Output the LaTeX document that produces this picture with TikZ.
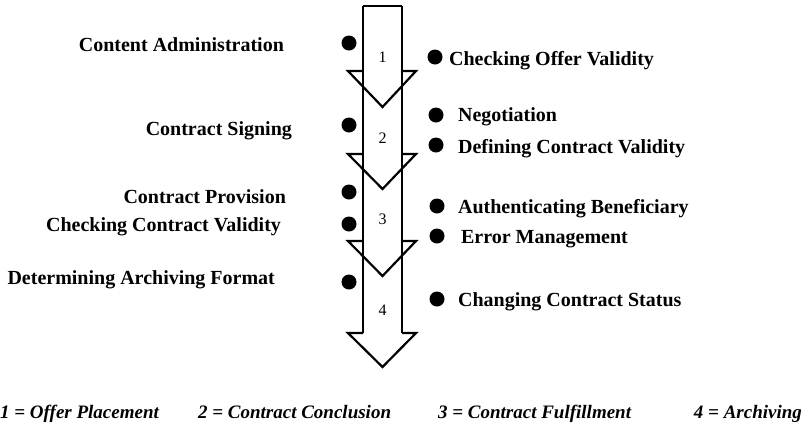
\documentclass[tikz,border=0pt]{standalone}
\usepackage{fontspec}
\setmainfont{Liberation Serif}
\begin{document}
\begin{tikzpicture}[
        x=1pt, y=-1pt,
        line width=2.2pt,
        phase/.style={font=\fontsize{16}{16}\selectfont},
        task/.style={inner sep=0pt, font=\bfseries\fontsize{20}{21}\selectfont},
        dot/.style={circle, fill=black, draw=none, minimum size=15pt, inner sep=0pt},
        legend/.style={inner sep=0pt, font=\bfseries\itshape\fontsize{19}{20}\selectfont}
      ]
      \useasboundingbox (0,0) rectangle (801,432);
      % the phase arrow
      \draw (363,6) -- (402,6);
      \draw (363,6) -- (363,333);
      \draw (402,6) -- (402,333);
      \foreach \wing/\tip in {71/107, 154/189, 241/276, 333/367}
        \draw[line join=miter] (363,\wing) -- (348,\wing) -- (382.5,\tip)
          -- (416,\wing) -- (402,\wing);
      \node[phase] (p1) at (382.5,57) {1};
      \node[phase] (p2) at (382.5,138) {2};
      \node[phase] (p3) at (382.5,219) {3};
      \node[phase] (p4) at (382.5,310) {4};
      % tasks left of the arrow
      \node[dot] (l1) at (349,43) {};
      \node[dot] (l2) at (349,125) {};
      \node[dot] (l3) at (349,192) {};
      \node[dot] (l4) at (349,224) {};
      \node[dot] (l5) at (349,282) {};
      \node[task, anchor=base east] (content) at (285,51) {Content Administration};
      \node[task, anchor=base east] (signing) at (293,135) {Contract Signing};
      \node[task, anchor=base east] (provision) at (287,203) {Contract Provision};
      \node[task, anchor=base east] (checkvalid) at (282,231) {Checking Contract Validity};
      \node[task, anchor=base east] (format) at (276,284) {Determining Archiving Format};
      % tasks right of the arrow
      \node[dot] (r1) at (435,57) {};
      \node[dot] (r2) at (436,115) {};
      \node[dot] (r3) at (436,145) {};
      \node[dot] (r4) at (437,206) {};
      \node[dot] (r5) at (437,236) {};
      \node[dot] (r6) at (437,299) {};
      \node[task, anchor=base west] (offer) at (448,65) {Checking Offer Validity};
      \node[task, anchor=base west] (negotiation) at (457,121) {Negotiation};
      \node[task, anchor=base west] (defining) at (457,153) {Defining Contract Validity};
      \node[task, anchor=base west] (auth) at (457,213) {Authenticating Beneficiary};
      \node[task, anchor=base west] (error) at (460,243) {Error Management};
      \node[task, anchor=base west] (status) at (457,306) {Changing Contract Status};
      % legend
      \node[legend, anchor=base east] (leg1) at (160,418) {1 = Offer Placement};
      \node[legend, anchor=base west] (leg2) at (197,418) {2 = Contract Conclusion};
      \node[legend, anchor=base west] (leg3) at (437,418) {3 = Contract Fulfillment};
      \node[legend, anchor=base east] (leg4) at (803,418) {4 = Archiving};
    \end{tikzpicture}
\end{document}
